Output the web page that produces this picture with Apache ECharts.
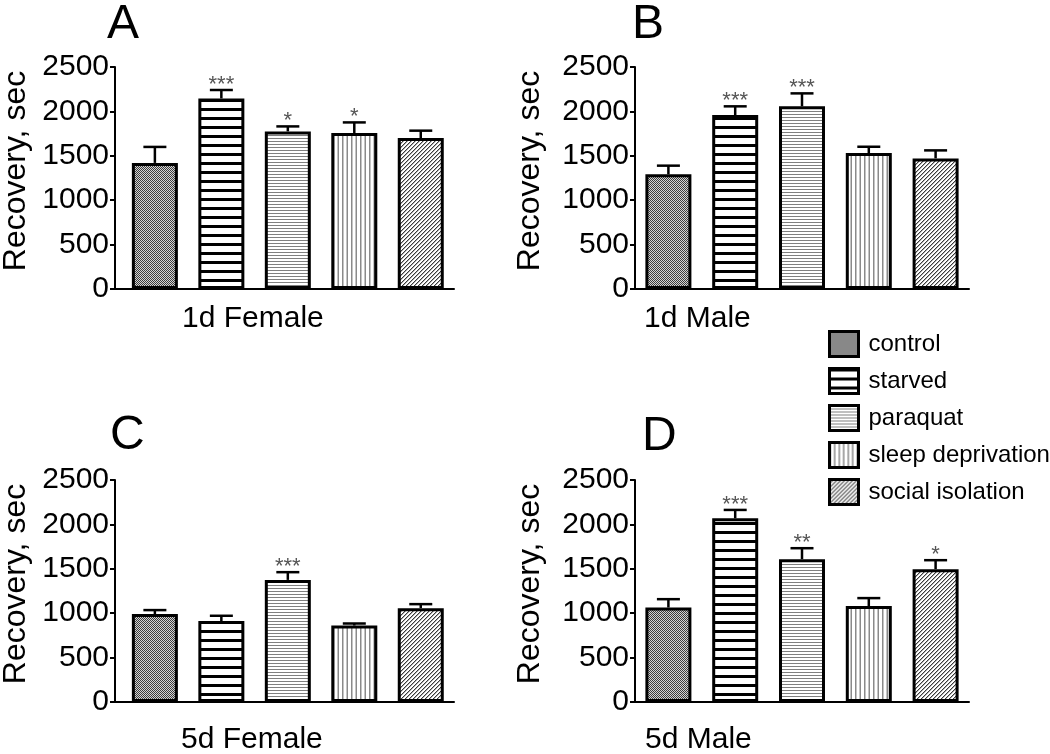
<!DOCTYPE html>
<html><head><meta charset="utf-8">
<script src="https://cdn.jsdelivr.net/npm/echarts@6/dist/echarts.min.js"></script>
<style>html,body{margin:0;padding:0;background:#fff}#c{width:1050px;height:754px}</style>
</head><body><div id="c"></div>
<script>
// ---- data ----
const treatments = ['control', 'starved', 'paraquat', 'sleep deprivation', 'social isolation'];
const panelLetters = ['A', 'B', 'C', 'D'];
const panelNames = ['1d Female', '1d Male', '5d Female', '5d Male'];
const yTicks = [0, 500, 1000, 1500, 2000, 2500];
const yTitle = 'Recovery, sec';

const meanA = [1420, 2146, 1775, 1757, 1700];
const semA  = [180, 95, 56, 119, 83];
const sigA  = ['', '***', '*', '*', ''];

const meanB = [1291, 1959, 2057, 1531, 1471];
const semB  = [98, 98, 146, 71, 90];
const sigB  = ['', '***', '***', '', ''];

const meanC = [990, 911, 1375, 861, 1057];
const semC  = [45, 60, 87, 23, 45];
const sigC  = ['', '', '***', '', ''];

const meanD = [1064, 2069, 1608, 1080, 1496];
const semD  = [94, 94, 124, 90, 101];
const sigD  = ['', '***', '**', '', '*'];

const means = [meanA, meanB, meanC, meanD];
const sems = [semA, semB, semC, semD];
const sigs = [sigA, sigB, sigC, sigD];

// ---- layout (pixels) ----
const panels = [
  {left: 115, top: 67, width: 339, xmin: -0.6, xmax: 4.5, letter: [107, 25], name: [182, 319], title: [16, 171]},
  {left: 635, top: 67, width: 334, xmin: -0.5, xmax: 4.5, letter: [632, 25], name: [644, 319], title: [530, 171]},
  {left: 115, top: 480, width: 339, xmin: -0.6, xmax: 4.5, letter: [110, 436], name: [181, 740], title: [16, 584]},
  {left: 635, top: 480, width: 334, xmin: -0.5, xmax: 4.5, letter: [642, 437], name: [645, 740], title: [530, 584]}
];
const FONT = 'Liberation Sans, Arial, sans-serif';

// ---- patterns ----
function mk(w, h, draw) {
  const c = document.createElement('canvas');
  c.width = w; c.height = h;
  const g = c.getContext('2d');
  g.fillStyle = '#fff'; g.fillRect(0, 0, w, h);
  draw(g);
  return {image: c, repeat: 'repeat'};
}
const patterns = [
  mk(2, 2, g => { g.fillStyle = '#3c3c3c'; g.fillRect(0, 0, 1, 1); g.fillRect(1, 1, 1, 1); g.fillStyle = '#d4d4d4'; g.fillRect(1, 0, 1, 1); g.fillRect(0, 1, 1, 1); }),
  mk(4, 9, g => { g.fillStyle = '#000'; g.fillRect(0, 0, 4, 3); }),
  mk(4, 3, g => { g.fillStyle = '#808080'; g.fillRect(0, 0, 4, 1); }),
  mk(9, 4, g => { g.fillStyle = '#8a8a8a'; g.fillRect(0, 0, 1.5, 4); g.fillRect(4.5, 0, 1.5, 4); }),
  mk(4, 4, g => { g.fillStyle = '#3a3a3a'; g.fillRect(3, 0, 1, 1); g.fillRect(2, 1, 1, 1); g.fillRect(1, 2, 1, 1); g.fillRect(0, 3, 1, 1);
                  g.fillStyle = '#b0b0b0'; g.fillRect(0, 0, 1, 1); g.fillRect(3, 1, 1, 1); g.fillRect(2, 2, 1, 1); g.fillRect(1, 3, 1, 1); })
];

const grids = [], xAxes = [], yAxes = [], series = [], graphics = [];
panels.forEach((p, pi) => {
  grids.push({left: p.left, top: p.top, width: p.width, height: 222});
  xAxes.push({
    gridIndex: pi, type: 'value', min: p.xmin, max: p.xmax,
    axisLine: {show: true, onZero: false, lineStyle: {color: '#000', width: 2}},
    axisTick: {show: false}, axisLabel: {show: false}, splitLine: {show: false}
  });
  yAxes.push({
    gridIndex: pi, type: 'value', min: yTicks[0], max: yTicks[yTicks.length - 1], interval: yTicks[1] - yTicks[0],
    axisLine: {show: true, onZero: false, lineStyle: {color: '#000', width: 2}},
    axisTick: {show: true, length: 5, lineStyle: {color: '#000', width: 2}},
    axisLabel: {fontSize: 30, color: '#000', margin: 6, fontFamily: FONT, formatter: v => String(v)},
    splitLine: {show: false}
  });
  treatments.forEach((t, ti) => {
    series.push({
      type: 'bar', name: t, xAxisIndex: pi, yAxisIndex: pi,
      data: [[ti, means[pi][ti]]],
      barWidth: 46, barGap: '-100%',
      itemStyle: {color: patterns[ti], borderColor: '#000', borderWidth: 3},
      emphasis: {disabled: true}, silent: true
    });
  });
  const sig = sigs[pi];
  series.push({
    type: 'custom', xAxisIndex: pi, yAxisIndex: pi, z: 10, silent: true,
    data: means[pi].map((m, i) => [i, m, sems[pi][i]]),
    renderItem: (params, api) => {
      const x = api.value(0), m = api.value(1), e = api.value(2);
      const b = api.coord([x, m]), tp = api.coord([x, m + e]);
      const s = sig[params.dataIndex];
      return {type: 'group', children: [
        {type: 'line', shape: {x1: b[0], y1: b[1], x2: tp[0], y2: tp[1]}, style: {stroke: '#000', lineWidth: 2.5}},
        {type: 'line', shape: {x1: tp[0] - 11.5, y1: tp[1], x2: tp[0] + 11.5, y2: tp[1]}, style: {stroke: '#000', lineWidth: 2.5}},
        {type: 'text', style: {text: s, x: tp[0], y: tp[1] - 5, align: 'center', verticalAlign: 'middle', font: '22px ' + FONT, fill: '#555'}}
      ]};
    }
  });
  graphics.push({type: 'text', x: p.letter[0], y: p.letter[1], style: {text: panelLetters[pi], x: 0, y: 0, align: 'left', verticalAlign: 'middle', font: '48px ' + FONT, fill: '#000'}});
  graphics.push({type: 'text', x: p.name[0], y: p.name[1], style: {text: panelNames[pi], x: 0, y: 0, align: 'left', verticalAlign: 'middle', font: '30px ' + FONT, fill: '#000'}});
  graphics.push({type: 'text', x: p.title[0], y: p.title[1], rotation: Math.PI / 2, style: {text: yTitle, x: 0, y: 0, align: 'center', verticalAlign: 'middle', font: '32px ' + FONT, fill: '#000'}});
});

const chart = echarts.init(document.getElementById('c'), null, {renderer: 'canvas'});
chart.setOption({
  animation: false,
  backgroundColor: '#fff',
  grid: grids, xAxis: xAxes, yAxis: yAxes, series: series,
  legend: {
    data: treatments, orient: 'vertical', left: 828, top: 330, padding: 0,
    itemWidth: 29, itemHeight: 25, itemGap: 9, icon: 'rect', selectedMode: false,
    itemStyle: {borderColor: '#000', borderWidth: 3},
    textStyle: {fontSize: 24, color: '#000', fontFamily: FONT, padding: [0, 0, 0, 5]}
  },
  graphic: graphics
});
</script></body></html>
